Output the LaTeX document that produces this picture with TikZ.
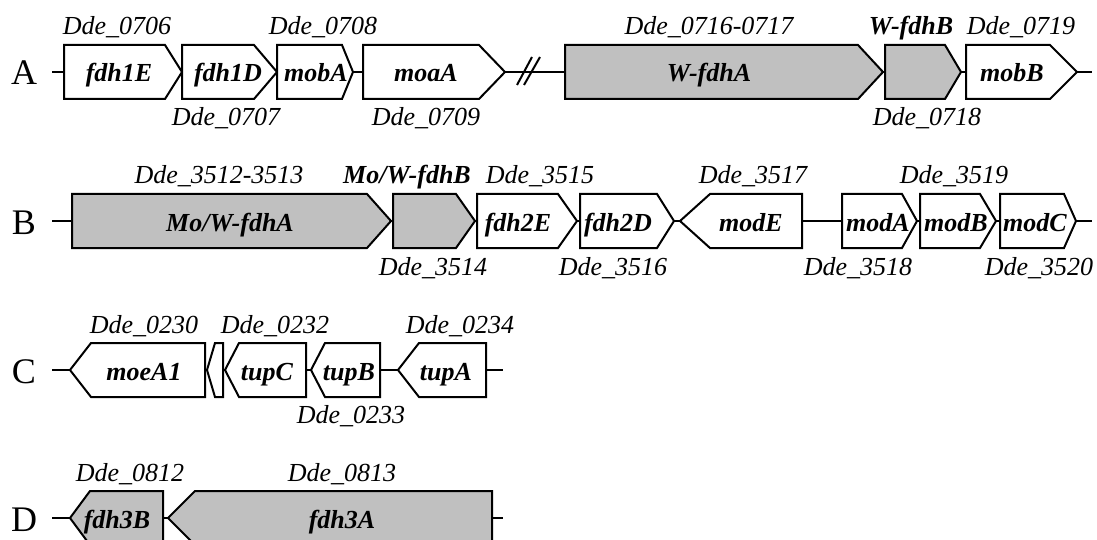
\documentclass[tikz,border=0pt]{standalone}
\usepackage{fontspec}
\setmainfont{Liberation Serif}
\definecolor{genegray}{RGB}{192,192,192}
\begin{document}
\begin{tikzpicture}[x=1pt, y=-1pt, line width=2pt,
	gene/.style={draw=black, line join=miter},
	genename/.style={font=\fontsize{26}{30}\selectfont\bfseries\itshape, inner sep=0pt, anchor=base},
	locus/.style={font=\fontsize{26}{30}\selectfont\itshape, inner sep=0pt, anchor=base},
	locusbold/.style={font=\fontsize{26}{30}\selectfont\bfseries\itshape, inner sep=0pt, anchor=base},
	rowlabel/.style={font=\fontsize{36}{40}\selectfont, inner sep=0pt, anchor=base}]
	\useasboundingbox (0,0) rectangle (1097,540);
	% row A
	\node[rowlabel] (rowA) at (24,85) {A};
	\coordinate (A-start) at (52,72);
	\coordinate (A-end) at (1092,72);
	\draw (A-start) -- (A-end);
	\draw (517,85) -- (532,57) (524,85) -- (540,57);
	\foreach \n/\b/\s/\t/\x/\f/\g in {fdhIE/64/165/182/119/white/fdh1E, fdhID/182/254/277/228/white/fdh1D,
		mobA/277/342/353/316/white/mobA, moaA/363/479/505/426/white/moaA,
		WfdhA/565/858/883/709/genegray/W-fdhA, WfdhB/885/945/961/920/genegray/{},
		mobB/966/1050/1077/1012/white/mobB}
	{
		\draw[gene, fill=\f] (\b,45) -- (\s,45) -- (\t,72) -- (\s,99) -- (\b,99) -- cycle;
		\node[genename] (\n) at (\x,82) {\g};
	}
	\foreach \x/\y/\t in {117/35/Dde\_0706, 323/35/Dde\_0708, 226/126/Dde\_0707, 426/126/Dde\_0709,
		709/35/Dde\_0716-0717, 1021/35/Dde\_0719, 927/126/Dde\_0718}
		\node[locus] at (\x,\y) {\t};
	\node[locusbold] (WfdhB-name) at (911,35) {W-fdhB};
	% row B
	\node[rowlabel] (rowB) at (24,234) {B};
	\coordinate (B-start) at (52,221);
	\coordinate (B-end) at (1092,221);
	\draw (B-start) -- (B-end);
	\foreach \n/\b/\s/\t/\x/\f/\g in {MoWfdhA/72/367/391/230/genegray/{Mo/W-fdhA}, MoWfdhB/393/456/475/430/genegray/{},
		fdhIIE/477/558/577/518/white/fdh2E, fdhIID/580/657/674/618/white/fdh2D,
		modE/802/710/680/751/white/modE, modA/842/902/917/878/white/modA,
		modB/920/980/996/956/white/modB, modC/1000/1064/1076/1035/white/modC}
	{
		\draw[gene, fill=\f] (\b,194) -- (\s,194) -- (\t,221) -- (\s,248) -- (\b,248) -- cycle;
		\node[genename] (\n) at (\x,231) {\g};
	}
	\foreach \x/\y/\t in {219/184/Dde\_3512-3513, 540/184/Dde\_3515, 753/184/Dde\_3517, 954/184/Dde\_3519,
		433/275/Dde\_3514, 613/275/Dde\_3516, 858/275/Dde\_3518, 1039/275/Dde\_3520}
		\node[locus] at (\x,\y) {\t};
	\node[locusbold] (MoWfdhB-name) at (407,184) {Mo/W-fdhB};
	% row C
	\node[rowlabel] (rowC) at (24,383) {C};
	\coordinate (C-start) at (52,370);
	\coordinate (C-end) at (503,370);
	\draw (C-start) -- (C-end);
	\foreach \n/\b/\s/\t/\x/\f/\g in {moeAI/205/91/70/144/white/moeA1, Dde0231/223/215/207/215/white/{},
		tupC/306/239/225/267/white/tupC, tupB/380/325/311/349/white/tupB,
		tupA/486/419/398/446/white/tupA}
	{
		\draw[gene, fill=\f] (\b,343) -- (\s,343) -- (\t,370) -- (\s,397) -- (\b,397) -- cycle;
		\node[genename] (\n) at (\x,380) {\g};
	}
	\foreach \x/\y/\t in {144/333/Dde\_0230, 275/333/Dde\_0232, 460/333/Dde\_0234, 351/423/Dde\_0233}
		\node[locus] at (\x,\y) {\t};
	% row D
	\node[rowlabel] (rowD) at (24,531) {D};
	\coordinate (D-start) at (52,518);
	\coordinate (D-end) at (503,518);
	\draw (D-start) -- (D-end);
	\foreach \n/\b/\s/\t/\x/\f/\g in {fdhIIIB/163/90/70/117/genegray/fdh3B, fdhIIIA/492/195/168/342/genegray/fdh3A}
	{
		\draw[gene, fill=\f] (\b,491) -- (\s,491) -- (\t,518) -- (\s,545) -- (\b,545) -- cycle;
		\node[genename] (\n) at (\x,528) {\g};
	}
	\foreach \x/\y/\t in {130/481/Dde\_0812, 342/481/Dde\_0813}
		\node[locus] at (\x,\y) {\t};
\end{tikzpicture}
\end{document}
